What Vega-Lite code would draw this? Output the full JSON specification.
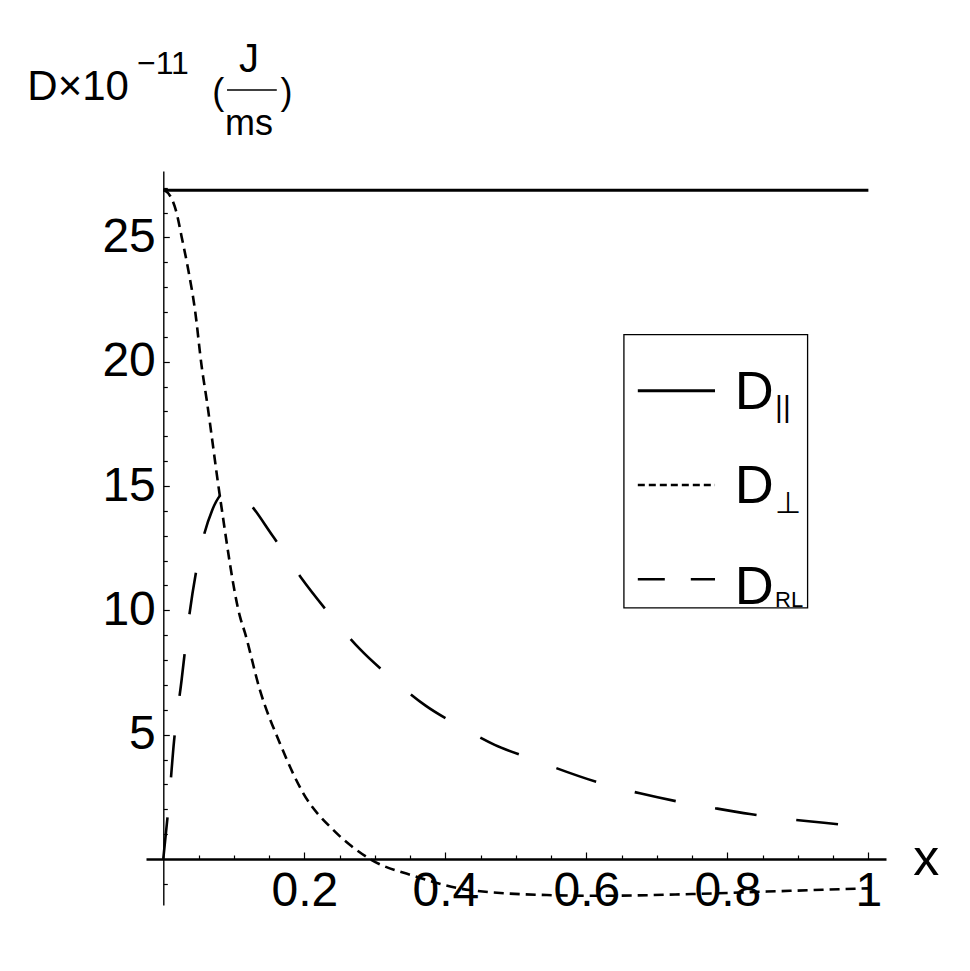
{
  "$schema": "https://vega.github.io/schema/vega-lite/v6.json",
  "width": 740,
  "height": 734,
  "autosize": {"type": "none"},
  "padding": {"left": 146, "top": 171, "right": 84, "bottom": 66},
  "background": "white",
  "config": {"view": {"stroke": null}, "font": "Liberation Sans"},
  "datasets": {
    "curves": [
      {"series": "par", "x": 0, "y": 26.9},
      {"series": "par", "x": 1, "y": 26.9},
      {"series": "perp", "x": 0, "y": 26.9},
      {"series": "perp", "x": 0.0024, "y": 26.88},
      {"series": "perp", "x": 0.019, "y": 25.97},
      {"series": "perp", "x": 0.026, "y": 25.03},
      {"series": "perp", "x": 0.0355, "y": 23.69},
      {"series": "perp", "x": 0.045, "y": 22.08},
      {"series": "perp", "x": 0.0545, "y": 19.8},
      {"series": "perp", "x": 0.0616, "y": 18.46},
      {"series": "perp", "x": 0.0804, "y": 14.57},
      {"series": "perp", "x": 0.1088, "y": 9.75},
      {"series": "perp", "x": 0.116, "y": 9.08},
      {"series": "perp", "x": 0.137, "y": 6.8},
      {"series": "perp", "x": 0.1655, "y": 4.65},
      {"series": "perp", "x": 0.1986, "y": 2.64},
      {"series": "perp", "x": 0.241, "y": 1.17},
      {"series": "perp", "x": 0.265, "y": 0.56},
      {"series": "perp", "x": 0.293, "y": 0},
      {"series": "perp", "x": 0.359, "y": -0.71},
      {"series": "perp", "x": 0.435, "y": -1.25},
      {"series": "perp", "x": 0.544, "y": -1.45},
      {"series": "perp", "x": 0.62, "y": -1.48},
      {"series": "perp", "x": 0.75, "y": -1.41},
      {"series": "perp", "x": 0.856, "y": -1.31},
      {"series": "perp", "x": 1.0, "y": -1.18},
      {"series": "rl", "x": 0, "y": 0},
      {"series": "rl", "x": 0.0085, "y": 2.44},
      {"series": "rl", "x": 0.0152, "y": 4.72},
      {"series": "rl", "x": 0.026, "y": 7.2},
      {"series": "rl", "x": 0.0355, "y": 9.5},
      {"series": "rl", "x": 0.0488, "y": 11.9},
      {"series": "rl", "x": 0.0695, "y": 14.04},
      {"series": "rl", "x": 0.092, "y": 14.82},
      {"series": "rl", "x": 0.116, "y": 14.47},
      {"series": "rl", "x": 0.155, "y": 13.0},
      {"series": "rl", "x": 0.195, "y": 11.33},
      {"series": "rl", "x": 0.2355, "y": 9.86},
      {"series": "rl", "x": 0.279, "y": 8.44},
      {"series": "rl", "x": 0.324, "y": 7.27},
      {"series": "rl", "x": 0.372, "y": 6.17},
      {"series": "rl", "x": 0.42, "y": 5.35},
      {"series": "rl", "x": 0.47, "y": 4.59},
      {"series": "rl", "x": 0.52, "y": 4.05},
      {"series": "rl", "x": 0.624, "y": 3.02},
      {"series": "rl", "x": 0.676, "y": 2.64},
      {"series": "rl", "x": 0.728, "y": 2.32},
      {"series": "rl", "x": 0.781, "y": 2.05},
      {"series": "rl", "x": 0.832, "y": 1.81},
      {"series": "rl", "x": 0.885, "y": 1.61},
      {"series": "rl", "x": 0.937, "y": 1.46},
      {"series": "rl", "x": 0.99, "y": 1.29},
      {"series": "rl", "x": 1.0, "y": 1.26}
    ]
  },
  "encoding": {
    "x": {
      "type": "quantitative",
      "scale": {"domain": [-0.0245, 1.025], "nice": false, "zero": false},
      "axis": {
        "values": [0.05, 0.1, 0.15, 0.2, 0.25, 0.3, 0.35, 0.4, 0.45, 0.5, 0.55, 0.6, 0.65, 0.7, 0.75, 0.8, 0.85, 0.9, 0.95, 1.0],
        "offset": -46,
        "title": null,
        "grid": false,
        "domainColor": "black",
        "domainWidth": 2.5,
        "tickColor": "black",
        "tickWidth": 1.2,
        "tickSize": -7,
        "tickDash": {"condition": {"test": "abs(datum.value*5 - round(datum.value*5)) < 0.001", "value": [20, 0]}, "value": [4, 20]},
        "labelExpr": "abs(datum.value*5 - round(datum.value*5)) < 0.001 ? format(datum.value, '.1~f') : ''",
        "labelFontSize": 48,
        "labelColor": "black",
        "labelBaseline": "top",
        "labelPadding": 15,
        "labelFlush": false,
        "labelOverlap": false
      }
    },
    "y": {
      "type": "quantitative",
      "scale": {"domain": [-1.85, 27.67], "nice": false, "zero": false},
      "axis": {
        "values": [-1, 1, 2, 3, 4, 5, 6, 7, 8, 9, 10, 11, 12, 13, 14, 15, 16, 17, 18, 19, 20, 21, 22, 23, 24, 25, 26, 27],
        "offset": -17.3,
        "title": null,
        "grid": false,
        "domainColor": "black",
        "domainWidth": 1.4,
        "tickColor": "black",
        "tickWidth": 1.2,
        "tickSize": -6,
        "tickDash": {"condition": {"test": "datum.value % 5 === 0", "value": [20, 0]}, "value": [4, 20]},
        "labelExpr": "datum.value % 5 === 0 && datum.value !== 0 ? datum.label : ''",
        "labelFontSize": 48,
        "labelColor": "black",
        "labelBaseline": "middle",
        "labelPadding": 14,
        "labelFlush": false,
        "labelOverlap": false
      }
    }
  },
  "layer": [
    {
      "data": {"name": "curves"},
      "transform": [{"filter": "datum.series === 'par'"}],
      "mark": {"type": "line", "color": "black", "strokeWidth": 3, "strokeCap": "butt"},
      "encoding": {
        "x": {"field": "x", "type": "quantitative"},
        "y": {"field": "y", "type": "quantitative"}
      }
    },
    {
      "data": {"name": "curves"},
      "transform": [{"filter": "datum.series === 'perp'"}],
      "mark": {"type": "line", "color": "black", "strokeWidth": 2.6, "strokeDash": [10, 6], "interpolate": "monotone", "strokeCap": "butt"},
      "encoding": {
        "x": {"field": "x", "type": "quantitative"},
        "y": {"field": "y", "type": "quantitative"}
      }
    },
    {
      "data": {"name": "curves"},
      "transform": [{"filter": "datum.series === 'rl'"}],
      "mark": {"type": "line", "color": "black", "strokeWidth": 2.6, "strokeDash": [42, 40], "interpolate": "monotone", "strokeCap": "butt"},
      "encoding": {
        "x": {"field": "x", "type": "quantitative"},
        "y": {"field": "y", "type": "quantitative"}
      }
    },
    {
      "data": {"values": [{}]},
      "mark": {"type": "rect", "fill": "white", "stroke": "black", "strokeWidth": 1.3},
      "encoding": {
        "x": {"datum": 0.6533, "type": "quantitative"},
        "x2": {"datum": 0.9138},
        "y": {"datum": 21.09, "type": "quantitative"},
        "y2": {"datum": 10.1}
      }
    },
    {
      "data": {"values": [{}]},
      "mark": {"type": "rule", "color": "black", "strokeWidth": 3, "strokeCap": "butt"},
      "encoding": {
        "x": {"datum": 0.673, "type": "quantitative"},
        "x2": {"datum": 0.7825},
        "y": {"datum": 18.83, "type": "quantitative"}
      }
    },
    {
      "data": {"values": [{}]},
      "mark": {"type": "rule", "color": "black", "strokeWidth": 2.6, "strokeDash": [7, 4], "strokeCap": "butt"},
      "encoding": {
        "x": {"datum": 0.673, "type": "quantitative"},
        "x2": {"datum": 0.7825},
        "y": {"datum": 15.04, "type": "quantitative"}
      }
    },
    {
      "data": {"values": [{}]},
      "mark": {"type": "rule", "color": "black", "strokeWidth": 2.6, "strokeDash": [27, 26], "strokeCap": "butt"},
      "encoding": {
        "x": {"datum": 0.673, "type": "quantitative"},
        "x2": {"datum": 0.7825},
        "y": {"datum": 11.25, "type": "quantitative"}
      }
    },
    {
      "data": {"values": [{}]},
      "mark": {"type": "text", "text": "D", "fontSize": 54, "align": "left", "baseline": "alphabetic", "color": "black"},
      "encoding": {
        "x": {"datum": 0.8105, "type": "quantitative"},
        "y": {"datum": 18.1, "type": "quantitative"}
      }
    },
    {
      "data": {"values": [{}]},
      "mark": {"type": "text", "text": "||", "fontSize": 30, "align": "left", "baseline": "alphabetic", "color": "black"},
      "encoding": {
        "x": {"datum": 0.8677, "type": "quantitative"},
        "y": {"datum": 17.78, "type": "quantitative"}
      }
    },
    {
      "data": {"values": [{}]},
      "mark": {"type": "text", "text": "D", "fontSize": 54, "align": "left", "baseline": "alphabetic", "color": "black"},
      "encoding": {
        "x": {"datum": 0.8105, "type": "quantitative"},
        "y": {"datum": 14.33, "type": "quantitative"}
      }
    },
    {
      "data": {"values": [{}]},
      "mark": {"type": "text", "text": "⊥", "fontSize": 30, "align": "left", "baseline": "alphabetic", "color": "black"},
      "encoding": {
        "x": {"datum": 0.8677, "type": "quantitative"},
        "y": {"datum": 13.92, "type": "quantitative"}
      }
    },
    {
      "data": {"values": [{}]},
      "mark": {"type": "text", "text": "D", "fontSize": 54, "align": "left", "baseline": "alphabetic", "color": "black"},
      "encoding": {
        "x": {"datum": 0.8105, "type": "quantitative"},
        "y": {"datum": 10.26, "type": "quantitative"}
      }
    },
    {
      "data": {"values": [{}]},
      "mark": {"type": "text", "text": "RL", "fontSize": 22, "align": "left", "baseline": "alphabetic", "color": "black"},
      "encoding": {
        "x": {"datum": 0.8677, "type": "quantitative"},
        "y": {"datum": 10.15, "type": "quantitative"}
      }
    },
    {
      "data": {"values": [{}]},
      "mark": {"type": "text", "text": "D×10", "fontSize": 42, "align": "right", "baseline": "alphabetic", "color": "black"},
      "encoding": {
        "x": {"datum": -0.0487, "type": "quantitative"},
        "y": {"datum": 30.53, "type": "quantitative"}
      }
    },
    {
      "data": {"values": [{}]},
      "mark": {"type": "text", "text": "−11", "fontSize": 32, "align": "left", "baseline": "alphabetic", "color": "black"},
      "encoding": {
        "x": {"datum": -0.0373, "type": "quantitative"},
        "y": {"datum": 31.58, "type": "quantitative"}
      }
    },
    {
      "data": {"values": [{}]},
      "mark": {"type": "text", "text": "(", "fontSize": 36, "align": "center", "baseline": "middle", "color": "black"},
      "encoding": {
        "x": {"datum": 0.078, "type": "quantitative"},
        "y": {"datum": 30.79, "type": "quantitative"}
      }
    },
    {
      "data": {"values": [{}]},
      "mark": {"type": "text", "text": "J", "fontSize": 40, "align": "center", "baseline": "alphabetic", "color": "black"},
      "encoding": {
        "x": {"datum": 0.1216, "type": "quantitative"},
        "y": {"datum": 31.66, "type": "quantitative"}
      }
    },
    {
      "data": {"values": [{}]},
      "mark": {"type": "rule", "color": "black", "strokeWidth": 1.5},
      "encoding": {
        "x": {"datum": 0.0904, "type": "quantitative"},
        "x2": {"datum": 0.161},
        "y": {"datum": 30.93, "type": "quantitative"}
      }
    },
    {
      "data": {"values": [{}]},
      "mark": {"type": "text", "text": "ms", "fontSize": 36, "align": "center", "baseline": "alphabetic", "color": "black"},
      "encoding": {
        "x": {"datum": 0.1216, "type": "quantitative"},
        "y": {"datum": 29.12, "type": "quantitative"}
      }
    },
    {
      "data": {"values": [{}]},
      "mark": {"type": "text", "text": ")", "fontSize": 36, "align": "center", "baseline": "middle", "color": "black"},
      "encoding": {
        "x": {"datum": 0.1748, "type": "quantitative"},
        "y": {"datum": 30.79, "type": "quantitative"}
      }
    },
    {
      "data": {"values": [{}]},
      "mark": {"type": "text", "text": "x", "fontSize": 52, "align": "center", "baseline": "alphabetic", "color": "black"},
      "encoding": {
        "x": {"datum": 1.082, "type": "quantitative"},
        "y": {"datum": -0.64, "type": "quantitative"}
      }
    }
  ]
}
